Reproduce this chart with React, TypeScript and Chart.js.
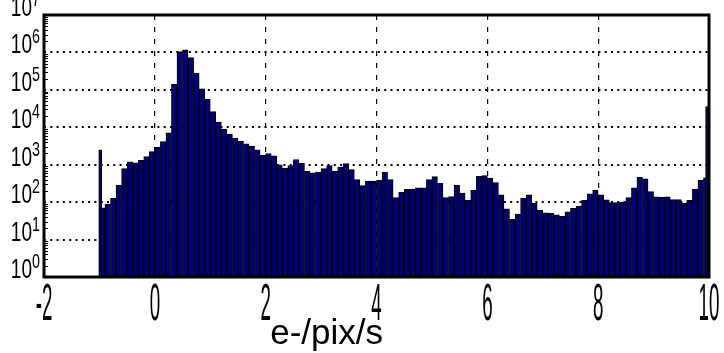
import { useEffect, useRef } from "react";
import { Chart, registerables } from "chart.js";

Chart.register(...registerables);

// Histogram of pixel dark-current rates (e-/pix/s), 0.1-wide bins from -1 to 10
const BIN_START = -1.0;
const BIN_WIDTH = 0.1;
const binCounts = [
  71, 89, 126, 282, 794, 1202, 1122, 1318, 1660, 2239,
  2951, 4169, 7079, 141254, 1047129, 1174898, 724436, 281838, 107152, 56234,
  26303, 13804, 8913, 6607, 5129, 4266, 3631, 3090, 2512, 1778,
  1995, 1738, 1000, 813, 955, 1380, 1096, 661, 603, 631,
  794, 955, 661, 871, 1072, 741, 398, 275, 363, 363,
  380, 631, 398, 132, 182, 219, 224, 240, 240, 398,
  479, 316, 132, 141, 282, 174, 112, 209, 490, 513,
  437, 331, 158, 66, 35, 48, 126, 158, 95, 60,
  52, 50, 46, 42, 55, 68, 78, 112, 166, 209,
  158, 115, 98, 98, 100, 132, 240, 457, 417, 191,
  138, 135, 138, 117, 117, 95, 112, 224, 380, 447,
];

// Narrow under/overflow bins at the two ends of the range
const edgeBinCenters = [-0.985, 9.965];
const edgeBinCounts = [2500, 36000];

const xTickValues = [-2, 0, 2, 4, 6, 8, 10];
const xTickLabels = ["-2", "0", "2", "4", "6", "8", "10"];
const yDecadeValues = [1, 10, 100, 1e3, 1e4, 1e5, 1e6, 1e7];
const yDecadeExponents = ["0", "1", "2", "3", "4", "5", "6", "7"];
const yMinorMultipliers = [2, 3, 4, 5, 6, 7, 8, 9];
const xAxisTitle = "e-/pix/s";

const FONT = '"Liberation Sans", Arial, sans-serif';

const frameAndLabels = {
  id: "frameAndLabels",
  afterDraw(chart: any) {
    const { ctx, chartArea: a, scales } = chart;
    const xs = scales.x;
    const ys = scales.y;
    ctx.save();

    // minor tick marks along the inner left edge
    ctx.strokeStyle = "#000";
    ctx.lineWidth = 1;
    yDecadeValues.slice(0, -1).forEach((d: number) => {
      yMinorMultipliers.forEach((m) => {
        const py = Math.round(ys.getPixelForValue(d * m)) + 0.5;
        ctx.beginPath();
        ctx.moveTo(a.left, py);
        ctx.lineTo(a.left + 4, py);
        ctx.stroke();
      });
    });

    // plot frame
    ctx.lineWidth = 3;
    ctx.strokeRect(a.left, a.top, a.right - a.left, a.bottom - a.top);

    ctx.fillStyle = "#000";
    // y decade labels: 10 with a raised exponent
    yDecadeValues.forEach((v, i) => {
      const py = ys.getPixelForValue(v);
      ctx.save();
      ctx.translate(a.left - 12, py + 1);
      ctx.scale(0.68, 1);
      ctx.textBaseline = "alphabetic";
      ctx.font = `28px ${FONT}`;
      ctx.textAlign = "right";
      ctx.fillText("10", 0, 0);
      ctx.font = `21px ${FONT}`;
      ctx.textAlign = "left";
      ctx.fillText(yDecadeExponents[i], 0, -10);
      ctx.restore();
    });

    // x tick labels
    xTickValues.forEach((v, i) => {
      const px = xs.getPixelForValue(v);
      ctx.save();
      ctx.translate(px, a.bottom + 43);
      ctx.scale(0.36, 1);
      ctx.font = `52px ${FONT}`;
      ctx.textAlign = "center";
      ctx.textBaseline = "alphabetic";
      ctx.fillText(xTickLabels[i], 0, 0);
      ctx.restore();
    });

    // x axis title
    ctx.font = `35px ${FONT}`;
    ctx.textAlign = "center";
    ctx.textBaseline = "alphabetic";
    ctx.fillText(xAxisTitle, a.left + (a.right - a.left) * 0.425, a.bottom + 67);

    ctx.restore();
  },
};

export default function App() {
  const canvasRef = useRef<HTMLCanvasElement>(null);

  useEffect(() => {
    const canvas = canvasRef.current;
    if (!canvas) return;

    const mainBars = binCounts.map((c, i) => ({ x: BIN_START + BIN_WIDTH * (i + 0.5), y: c }));
    const edgeBars = edgeBinCounts.map((c, i) => ({ x: edgeBinCenters[i], y: c }));

    const isEdgeTick = (c: any, lo: number, hi: number) =>
      c.tick && (c.tick.value === lo || c.tick.value === hi);

    const chart = new Chart(canvas, {
      type: "bar",
      data: {
        datasets: [
          {
            label: "counts",
            data: mainBars as any,
            xAxisID: "x",
            yAxisID: "y",
            backgroundColor: "#000070",
            borderColor: "#000000",
            borderWidth: 1,
            borderSkipped: "start",
            barPercentage: 1,
            categoryPercentage: 1,
            grouped: false,
            order: 1,
          },
          {
            label: "edge",
            data: edgeBars as any,
            xAxisID: "x2",
            yAxisID: "y",
            backgroundColor: "#000070",
            borderColor: "#000000",
            borderWidth: 1,
            borderSkipped: "start",
            barThickness: 3,
            grouped: false,
            order: 0,
          },
        ],
      },
      options: {
        responsive: false,
        animation: false,
        events: [],
        layout: { padding: { left: 44, top: 15, right: 15, bottom: 76 } },
        plugins: {
          legend: { display: false },
          tooltip: { enabled: false },
        },
        scales: {
          x: {
            type: "linear",
            min: -2,
            max: 10,
            offset: false,
            ticks: { stepSize: 2, display: false },
            grid: {
              offset: false,
              drawTicks: false,
              lineWidth: 1.2,
              color: (c: any) => (isEdgeTick(c, -2, 10) ? "rgba(0,0,0,0)" : "#000"),
            },
            border: { display: false, dash: [5, 7] },
          },
          x2: {
            type: "linear",
            min: -2,
            max: 10,
            offset: false,
            display: false,
          },
          y: {
            type: "logarithmic",
            min: 1,
            max: 1e7,
            afterBuildTicks: (axis: any) => {
              axis.ticks = yDecadeValues.map((v) => ({ value: v }));
            },
            ticks: { display: false },
            grid: {
              drawTicks: false,
              lineWidth: 2,
              color: (c: any) => (isEdgeTick(c, 1, 1e7) ? "rgba(0,0,0,0)" : "#000"),
            },
            border: { display: false, dash: [2, 4.3] },
          },
        },
      },
      plugins: [frameAndLabels],
    });

    return () => chart.destroy();
  }, []);

  return (
    <div style={{ position: "fixed", left: 0, top: 0, width: 724, height: 353, background: "#fff" }}>
      <canvas ref={canvasRef} width={724} height={353} style={{ display: "block", width: 724, height: 353 }} />
    </div>
  );
}
